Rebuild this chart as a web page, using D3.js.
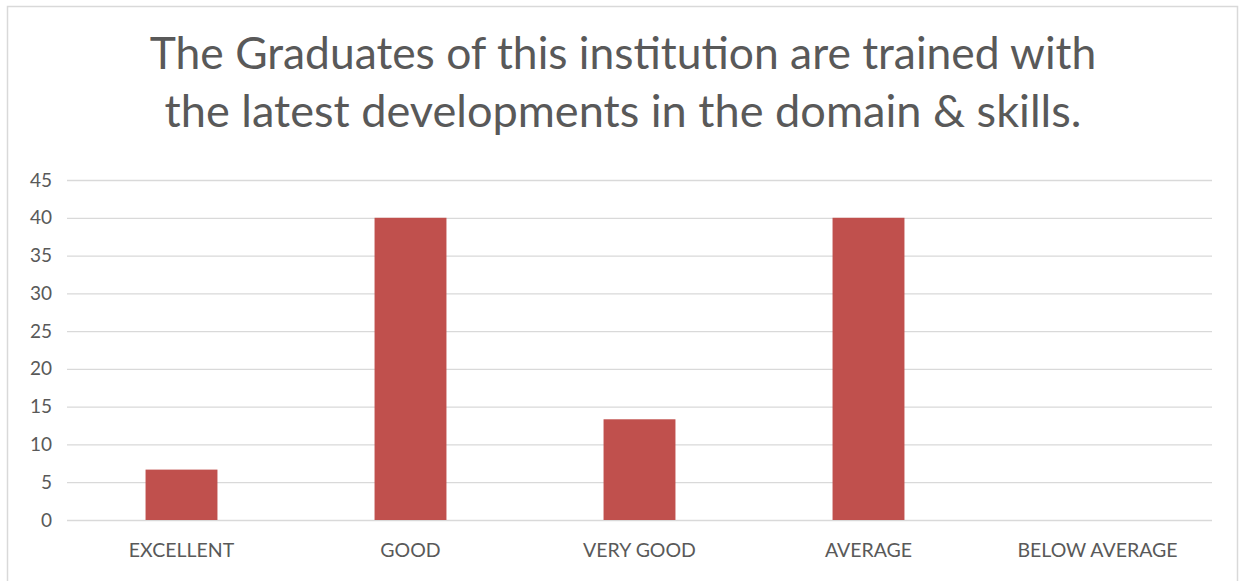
<!DOCTYPE html>
<html><head><meta charset="utf-8">
<script src="https://cdn.jsdelivr.net/npm/d3@7"></script>
<style>body{margin:0;background:#fff}svg{display:block}</style>
</head><body>
<svg id="chart" width="1239" height="581"></svg>
<script>
const categories = ["EXCELLENT", "GOOD", "VERY GOOD", "AVERAGE", "BELOW AVERAGE"];
const values = [6.67, 40, 13.33, 40, 0];
const yTicks = [0, 5, 10, 15, 20, 25, 30, 35, 40, 45];
const titleLines = ["The Graduates of this institution are trained with", "the latest developments in the domain & skills."];

const svg = d3.select("#chart");
const font = "Lato, 'Open Sans', sans-serif";
const textColor = "#595959";

svg.append("rect").attr("x", 7.5).attr("y", 6.5).attr("width", 1230).attr("height", 600)
  .attr("fill", "#fff").attr("stroke", "#d9d9d9").attr("stroke-width", 1.5);

const m = {left: 67, right: 1212, top: 180, bottom: 520};
const x = d3.scaleBand().domain(categories).range([m.left, m.right]).paddingInner(0.686).paddingOuter(0.343);
const y = d3.scaleLinear().domain([0, 45]).range([m.bottom, m.top]);

// title
const tg = svg.append("g");
const targetW = [947, 917];
const baselines = [69, 127];
titleLines.forEach((t, i) => {
  const el = tg.append("text").attr("x", 623).attr("y", baselines[i]).attr("text-anchor", "middle")
    .attr("font-family", font).attr("font-size", 40).attr("fill", textColor).text(t);
  const w = el.node().getComputedTextLength();
  el.attr("font-size", 40 * targetW[i] / w);
});

// gridlines
svg.append("g").attr("class", "grid")
  .attr("transform", `translate(${m.left},0)`)
  .call(d3.axisLeft(y).tickValues(yTicks).tickSize(-(m.right - m.left)).tickFormat(""))
  .call(g => g.select(".domain").remove())
  .call(g => g.selectAll("line").attr("stroke", "#d9d9d9").attr("stroke-width", 1.3));

// y labels
svg.append("g").attr("transform", `translate(${m.left},0)`)
  .call(d3.axisLeft(y).tickValues(yTicks).tickSize(0).tickPadding(15))
  .call(g => g.select(".domain").remove())
  .call(g => g.selectAll("text").attr("font-family", font).attr("font-size", 19).attr("fill", textColor));

// bars
svg.append("g").selectAll("rect").data(categories).join("rect")
  .attr("x", d => x(d)).attr("width", x.bandwidth())
  .attr("y", (d, i) => y(values[i])).attr("height", (d, i) => y(0) - y(values[i]))
  .attr("fill", "#c0504d");

// x labels
svg.append("g").attr("transform", `translate(0,${m.bottom})`)
  .call(d3.axisBottom(x).tickSize(0).tickPadding(23))
  .call(g => g.select(".domain").remove())
  .call(g => g.selectAll("text").attr("font-family", font).attr("font-size", 19.5).attr("fill", textColor));
</script>
</body></html>
